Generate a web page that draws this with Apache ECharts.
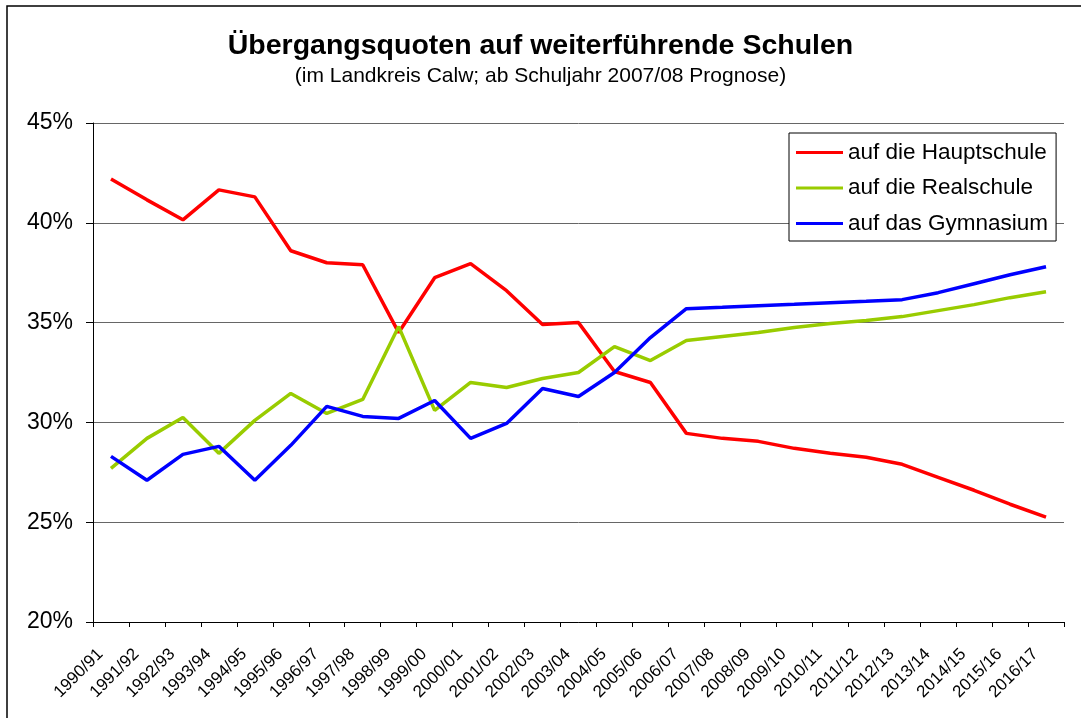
<!DOCTYPE html>
<html lang="de">
<head>
    <meta charset="UTF-8">
    <title>Übergangsquoten</title>
    <script src="https://cdn.jsdelivr.net/npm/echarts@6/dist/echarts.min.js"></script>
    <style>
        html, body { margin: 0; padding: 0; background: #fff; }
    </style>
</head>
<body>
    <div id="main" style="width: 1081px;height:718px;"></div>
    <script type="text/javascript">
        // Schuljahre (x-Achse)
        var years = ['1990/91', '1991/92', '1992/93', '1993/94', '1994/95', '1995/96', '1996/97',
            '1997/98', '1998/99', '1999/00', '2000/01', '2001/02', '2002/03', '2003/04', '2004/05',
            '2005/06', '2006/07', '2007/08', '2008/09', '2009/10', '2010/11', '2011/12', '2012/13',
            '2013/14', '2014/15', '2015/16', '2016/17'];

        // Quoten in Prozent
        var hauptschule = [42.2, 41.15, 40.15, 41.65, 41.3, 38.6, 38.0, 37.9, 34.5, 37.25, 37.95, 36.6, 34.9, 35.0,
            32.55, 32.0, 29.45, 29.2, 29.05, 28.7, 28.45, 28.25, 27.9, 27.25, 26.6, 25.9, 25.25];
        var realschule = [27.7, 29.2, 30.25, 28.45, 30.1, 31.45, 30.45, 31.15, 34.8, 30.6, 32.0, 31.75, 32.2, 32.5,
            33.8, 33.1, 34.1, 34.3, 34.5, 34.75, 34.95, 35.1, 35.3, 35.6, 35.9, 36.25, 36.55];
        var gymnasium = [28.3, 27.1, 28.4, 28.8, 27.1, 28.85, 30.8, 30.3, 30.2, 31.1, 29.2, 29.95, 31.7, 31.3,
            32.5, 34.25, 35.7, 35.77, 35.85, 35.92, 36.0, 36.07, 36.15, 36.5, 36.95, 37.4, 37.8];

        var font = 'Liberation Sans, Arial, sans-serif';

        var myChart = echarts.init(document.getElementById('main'));
        var option = {
            animation: false,
            title: {
                text: 'Übergangsquoten auf weiterführende Schulen',
                subtext: '(im Landkreis Calw; ab Schuljahr 2007/08 Prognose)',
                left: 'center',
                top: 32,
                padding: 0,
                itemGap: 5,
                textStyle: { fontFamily: font, fontSize: 28.5, fontWeight: 'bold', color: '#000' },
                subtextStyle: { fontFamily: font, fontSize: 21, color: '#000' }
            },
            // Rahmen um das Diagramm (nur oben/links sichtbar)
            graphic: [{
                type: 'rect',
                shape: { x: 7, y: 6, width: 1200, height: 900 },
                style: { fill: 'none', stroke: '#000', lineWidth: 1.5 },
                silent: true
            }],
            legend: {
                orient: 'vertical',
                left: 789,
                top: 133,
                padding: [8, 8, 6, 7],
                itemGap: 12.5,
                itemWidth: 47,
                itemHeight: 3,
                icon: 'rect',
                borderColor: '#000',
                borderWidth: 1,
                backgroundColor: '#fff',
                textStyle: { fontFamily: font, fontSize: 22.5, color: '#000' },
                data: ['auf die Hauptschule', 'auf die Realschule', 'auf das Gymnasium']
            },
            grid: {
                left: 93,
                right: 17,
                top: 123,
                bottom: 96
            },
            xAxis: {
                type: 'category',
                data: years,
                boundaryGap: true,
                axisLine: { lineStyle: { color: '#000', width: 1 } },
                axisTick: { show: true, interval: 0, length: 5, lineStyle: { color: '#000' } },
                axisLabel: {
                    interval: 0,
                    rotate: 45,
                    margin: 19,
                    padding: [0, 15, 0, 0],
                    fontFamily: font,
                    fontSize: 17,
                    color: '#000'
                }
            },
            yAxis: {
                type: 'value',
                min: 20,
                max: 45,
                interval: 5,
                axisLine: { show: true, lineStyle: { color: '#000', width: 1 } },
                axisTick: { show: true, length: 7, lineStyle: { color: '#000' } },
                axisLabel: {
                    formatter: '{value}%',
                    margin: 20,
                    fontFamily: font,
                    fontSize: 23,
                    color: '#000'
                },
                splitLine: { lineStyle: { color: '#666', width: 1 } }
            },
            series: [
                {
                    name: 'auf die Hauptschule', type: 'line', data: hauptschule,
                    symbol: 'none', color: '#FF0000', lineStyle: { width: 3.5 }
                },
                {
                    name: 'auf die Realschule', type: 'line', data: realschule,
                    symbol: 'none', color: '#99CC00', lineStyle: { width: 3.5 }
                },
                {
                    name: 'auf das Gymnasium', type: 'line', data: gymnasium,
                    symbol: 'none', color: '#0000FF', lineStyle: { width: 3.5 }
                }
            ]
        };

        myChart.setOption(option);
    </script>
</body>
</html>
